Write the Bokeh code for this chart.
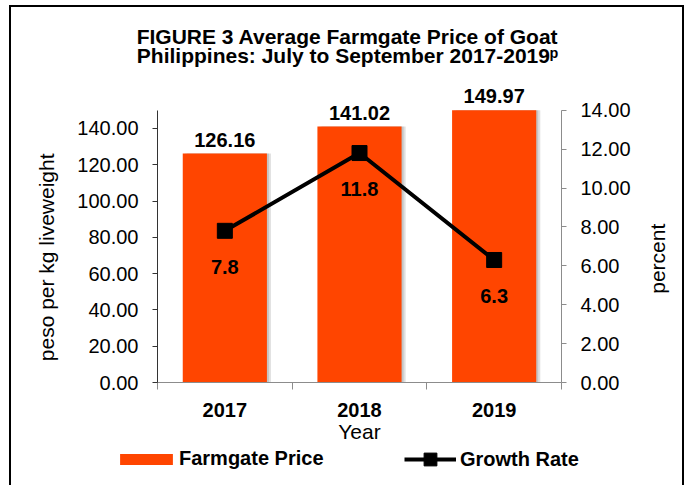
import math
from bokeh.plotting import figure
from bokeh.layouts import column, row
from bokeh.models import (ColumnDataSource, Range1d, LinearAxis, FixedTicker,
                          PrintfTickFormatter, LabelSet, Label, Legend, LegendItem)
from bokeh.core.properties import value
from bokeh.transform import dodge
from bokeh.embed import file_html
from bokeh.resources import INLINE

# ---- data ----
years = ["2017", "2018", "2019"]
price = [126.16, 141.02, 149.97]          # peso per kg liveweight
growth = [7.8, 11.8, 6.3]                 # percent
price_ticks = [0, 20, 40, 60, 80, 100, 120, 140]
pct_ticks = [0, 2, 4, 6, 8, 10, 12, 14]
price_max = 150
pct_max = 14
title1 = "FIGURE 3 Average Farmgate Price of Goat"
title2 = "Philippines: July to September 2017-2019\u1d56"
left_label = "peso per kg liveweight"
right_label = "percent"
x_label = "Year"
legend_labels = ["Farmgate Price", "Growth Rate"]

FONT = "Liberation Sans"
BAR = "#FF4500"
GRAY = "#8c8c8c"

# ---- layout (pixels) ----
W = 671
HT, HM, HG = 78, 360, 40            # title strip, chart row, legend strip
WR = 41                             # right strip holding the right axis title
FRAME_H, AXIS_H = 300, 275
MB_LEFT, MB_RIGHT, MB_BOTTOM = 146, 80, 60
WM = W - WR
stretch = FRAME_H / AXIS_H
NBSP_PAD = "\u00a0" * 8             # moves the centred axis title down the frame


def strip(w, h):
    f = figure(width=w, height=h, output_backend="svg", toolbar_location=None,
               x_range=Range1d(0, w), y_range=Range1d(0, h), min_border=0,
               x_axis_location=None, y_axis_location=None)
    f.grid.visible = False
    f.outline_line_color = None
    return f


xpos = [i + 0.5 for i in range(len(years))]
bounds = list(range(len(years) + 1))

src = ColumnDataSource(dict(
    x=xpos, price=price, growth=growth,
    price_lbl=[f"{v:.2f}" for v in price],
    growth_lbl=[f"{v:.1f}" for v in growth],
))

# ---- main chart ----
p = figure(width=WM, height=HM, output_backend="svg", toolbar_location=None,
           x_range=Range1d(0, len(years)), y_range=Range1d(0, price_max * stretch),
           min_border_left=MB_LEFT, min_border_right=MB_RIGHT,
           min_border_top=0, min_border_bottom=MB_BOTTOM)
p.outline_line_color = None
p.grid.visible = False
p.extra_y_ranges = {"pct": Range1d(0, pct_max * stretch)}

xa = p.xaxis[0]
xa.ticker = FixedTicker(ticks=xpos, minor_ticks=bounds)
xa.major_label_overrides = {x: y for x, y in zip(xpos, years)}
xa.major_tick_out = 0
xa.major_tick_in = 0
xa.minor_tick_out = 7
xa.minor_tick_in = 0
xa.axis_line_color = GRAY
xa.minor_tick_line_color = GRAY
xa.major_label_text_font = FONT
xa.major_label_text_font_style = "bold"
xa.major_label_text_font_size = "20px"
xa.major_label_text_color = "black"
xa.major_label_standoff = 13
xa.axis_label = x_label
xa.axis_label_text_font = FONT
xa.axis_label_text_font_style = "normal"
xa.axis_label_text_font_size = "21px"
xa.axis_label_text_color = "black"
xa.axis_label_standoff = 0

ya = p.yaxis[0]
ya.bounds = (0, price_max)
ya.ticker = FixedTicker(ticks=price_ticks, minor_ticks=[])
ya.formatter = PrintfTickFormatter(format="%.2f")
ya.major_tick_out = 5
ya.major_tick_in = 0
ya.axis_line_color = "#333333"
ya.major_tick_line_color = "#333333"
ya.major_label_text_font = FONT
ya.major_label_text_font_size = "20px"
ya.major_label_text_color = "black"
ya.major_label_standoff = 14
ya.axis_label = left_label + NBSP_PAD
ya.axis_label_text_font = FONT
ya.axis_label_text_font_style = "normal"
ya.axis_label_text_font_size = "21px"
ya.axis_label_text_color = "black"
ya.axis_label_standoff = 16

ra = LinearAxis(y_range_name="pct", bounds=(0, pct_max),
                ticker=FixedTicker(ticks=pct_ticks, minor_ticks=[]),
                formatter=PrintfTickFormatter(format="%.2f"))
ra.major_tick_out = 5
ra.major_tick_in = 0
ra.axis_line_color = GRAY
ra.major_tick_line_color = GRAY
ra.major_label_text_font = FONT
ra.major_label_text_font_size = "20px"
ra.major_label_text_color = "black"
ra.major_label_standoff = 14
p.add_layout(ra, "right")

BW = 0.625
p.vbar(x=dodge("x", 0.03), top="price", width=BW, source=src,
       fill_color="black", fill_alpha=0.12, line_color=None)
p.vbar(x=dodge("x", 0.015), top="price", width=BW, source=src,
       fill_color="black", fill_alpha=0.12, line_color=None)
p.vbar(x="x", top="price", width=BW, source=src, fill_color=BAR, line_color=None)
p.line("x", "growth", source=src, y_range_name="pct", line_color="black", line_width=4)
p.scatter("x", "growth", source=src, y_range_name="pct",
          marker="square", size=15, fill_color="black", line_color="black")

p.add_layout(LabelSet(x="x", y="price", text="price_lbl", source=src,
                      text_align="center", text_baseline="alphabetic", y_offset=7,
                      text_font=value(FONT), text_font_style="bold",
                      text_font_size="20px", text_color="black"))
p.add_layout(LabelSet(x="x", y="growth", text="growth_lbl", source=src,
                      y_range_name="pct",
                      text_align="center", text_baseline="alphabetic", y_offset=-43,
                      text_font=value(FONT), text_font_style="bold",
                      text_font_size="20px", text_color="black"))

# ---- title strip ----
t = strip(W, HT)
for txt, yb in ((title1, 49.5), (title2, 30)):
    t.add_layout(Label(x=336, y=yb, text=txt, text_align="center",
                       text_baseline="alphabetic", text_font=FONT,
                       text_font_style="bold", text_font_size="21px",
                       text_color="black"))

# ---- right axis-title strip ----
rgt = strip(WR, HM)
rgt.add_layout(Label(x=16, y=150, text=right_label, angle=math.pi / 2,
                     text_align="center", text_baseline="middle", text_font=FONT,
                     text_font_size="21px", text_color="black"))

# ---- legend strip (renderers share the data, kept out of view by the ranges) ----
g = strip(W, HG)
g.x_range = Range1d(100, 101)
g.y_range = Range1d(1000, 1001)
gbars = g.vbar(x="x", top="price", width=BW, source=src, fill_color=BAR, line_color=None)
gline = g.line("x", "growth", source=src, line_color="black", line_width=4)
gpts = g.scatter("x", "growth", source=src, marker="square", size=15,
                 fill_color="black", line_color="black")

common = dict(orientation="horizontal", padding=0, margin=0, border_line_color=None,
              background_fill_alpha=0, label_text_font=FONT,
              label_text_font_style="bold", label_text_font_size="20px",
              label_text_color="black")
g.add_layout(Legend(items=[LegendItem(label=legend_labels[0], renderers=[gbars])],
                    location=(102, 15), glyph_width=66, glyph_height=14,
                    label_standoff=0, **common))
g.add_layout(Legend(items=[LegendItem(label=legend_labels[1], renderers=[gline, gpts])],
                    location=(393, 10), glyph_width=52, glyph_height=32,
                    label_standoff=4, **common))

layout = column(t, row(p, rgt, spacing=0), g, spacing=0,
                styles={"border-top": "2px solid black", "border-left": "2px solid black",
                        "border-right": "2px solid black", "margin-left": "9px",
                        "margin-top": "5px"})

open("out.html", "w").write(file_html(layout, INLINE))
